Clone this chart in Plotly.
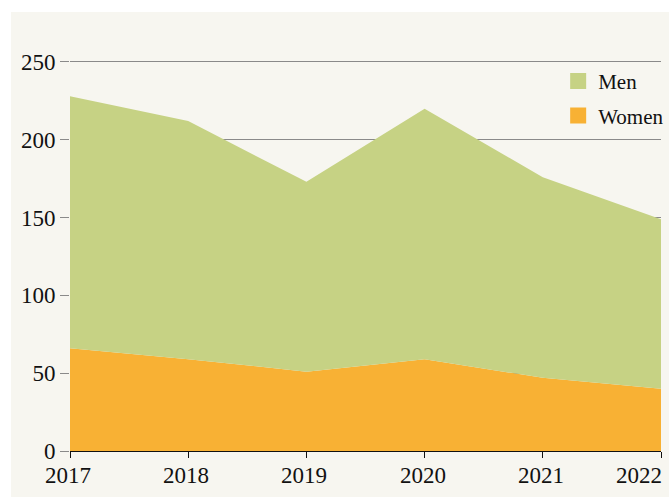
import plotly.graph_objects as go

years = ["2017", "2018", "2019", "2020", "2021", "2022"]
women = [66, 59, 51, 59, 47, 40]
men = [162, 153, 122, 161, 129, 109]
y_ticks = [0, 50, 100, 150, 200, 250]

GREEN = "#c6d284"
ORANGE = "#f8b134"
BG = "#f7f6f0"
FONT = "Liberation Serif"

fig = go.Figure()
fig.add_trace(go.Scatter(x=years, y=women, name="Women", stackgroup="one",
                         mode="none", fillcolor=ORANGE, showlegend=False,
                         hoverinfo="x+y+name"))
fig.add_trace(go.Scatter(x=years, y=men, name="Men", stackgroup="one",
                         mode="none", fillcolor=GREEN, showlegend=False,
                         hoverinfo="x+y+name"))
# legend entries
fig.add_trace(go.Scatter(x=[None], y=[None], name="Men", mode="markers",
                         marker=dict(symbol="square", size=20, color=GREEN),
                         legendgroup="m", legendrank=1))
fig.add_trace(go.Scatter(x=[None], y=[None], name="Women", mode="markers",
                         marker=dict(symbol="square", size=20, color=ORANGE),
                         legendgroup="w", legendrank=2))

fig.add_shape(type="rect", xref="paper", yref="paper",
              x0=-0.0998, x1=1.2, y0=-0.3, y1=1.1142,
              fillcolor=BG, line_width=0, layer="below")

# x tick labels as annotations so the last one stays inside the page
for i, yr in enumerate(years):
    last = i == len(years) - 1
    fig.add_annotation(x=i, y=-0.0254, xref="x", yref="paper",
                       text=yr, showarrow=False, yanchor="top",
                       xanchor="right" if last else "center",
                       xshift=3 if last else -2,
                       font=dict(size=23, family=FONT, color="#111"))

fig.update_layout(
    width=669, height=497,
    margin=dict(l=70, r=8, t=57, b=46, autoexpand=False),
    paper_bgcolor="white",
    plot_bgcolor="rgba(0,0,0,0)",
    font=dict(family=FONT, size=23, color="#111"),
    showlegend=True,
    legend=dict(x=0.826, y=0.99, xanchor="left", yanchor="top",
                bgcolor="rgba(0,0,0,0)", font=dict(size=21, family=FONT),
                tracegroupgap=4, traceorder="grouped"),
    xaxis=dict(type="category", range=[0, 5], showgrid=False,
               showline=True, linecolor="#111", linewidth=1,
               ticks="outside", ticklen=6, tickcolor="#111",
               showticklabels=False, zeroline=False,
               automargin=False),
    yaxis=dict(range=[0, 253.2], tickvals=y_ticks, showgrid=True,
               gridcolor="#8a8a8a", gridwidth=1, zeroline=False,
               ticks="outside", ticklen=9, tickcolor="#8a8a8a",
               tickfont=dict(size=23, family=FONT), showline=False,
               automargin=False),
)

fig.write_html("out.html", config={"displayModeBar": False},
               post_script="document.body.style.margin='0';"
                           "document.body.style.overflow='hidden';")
